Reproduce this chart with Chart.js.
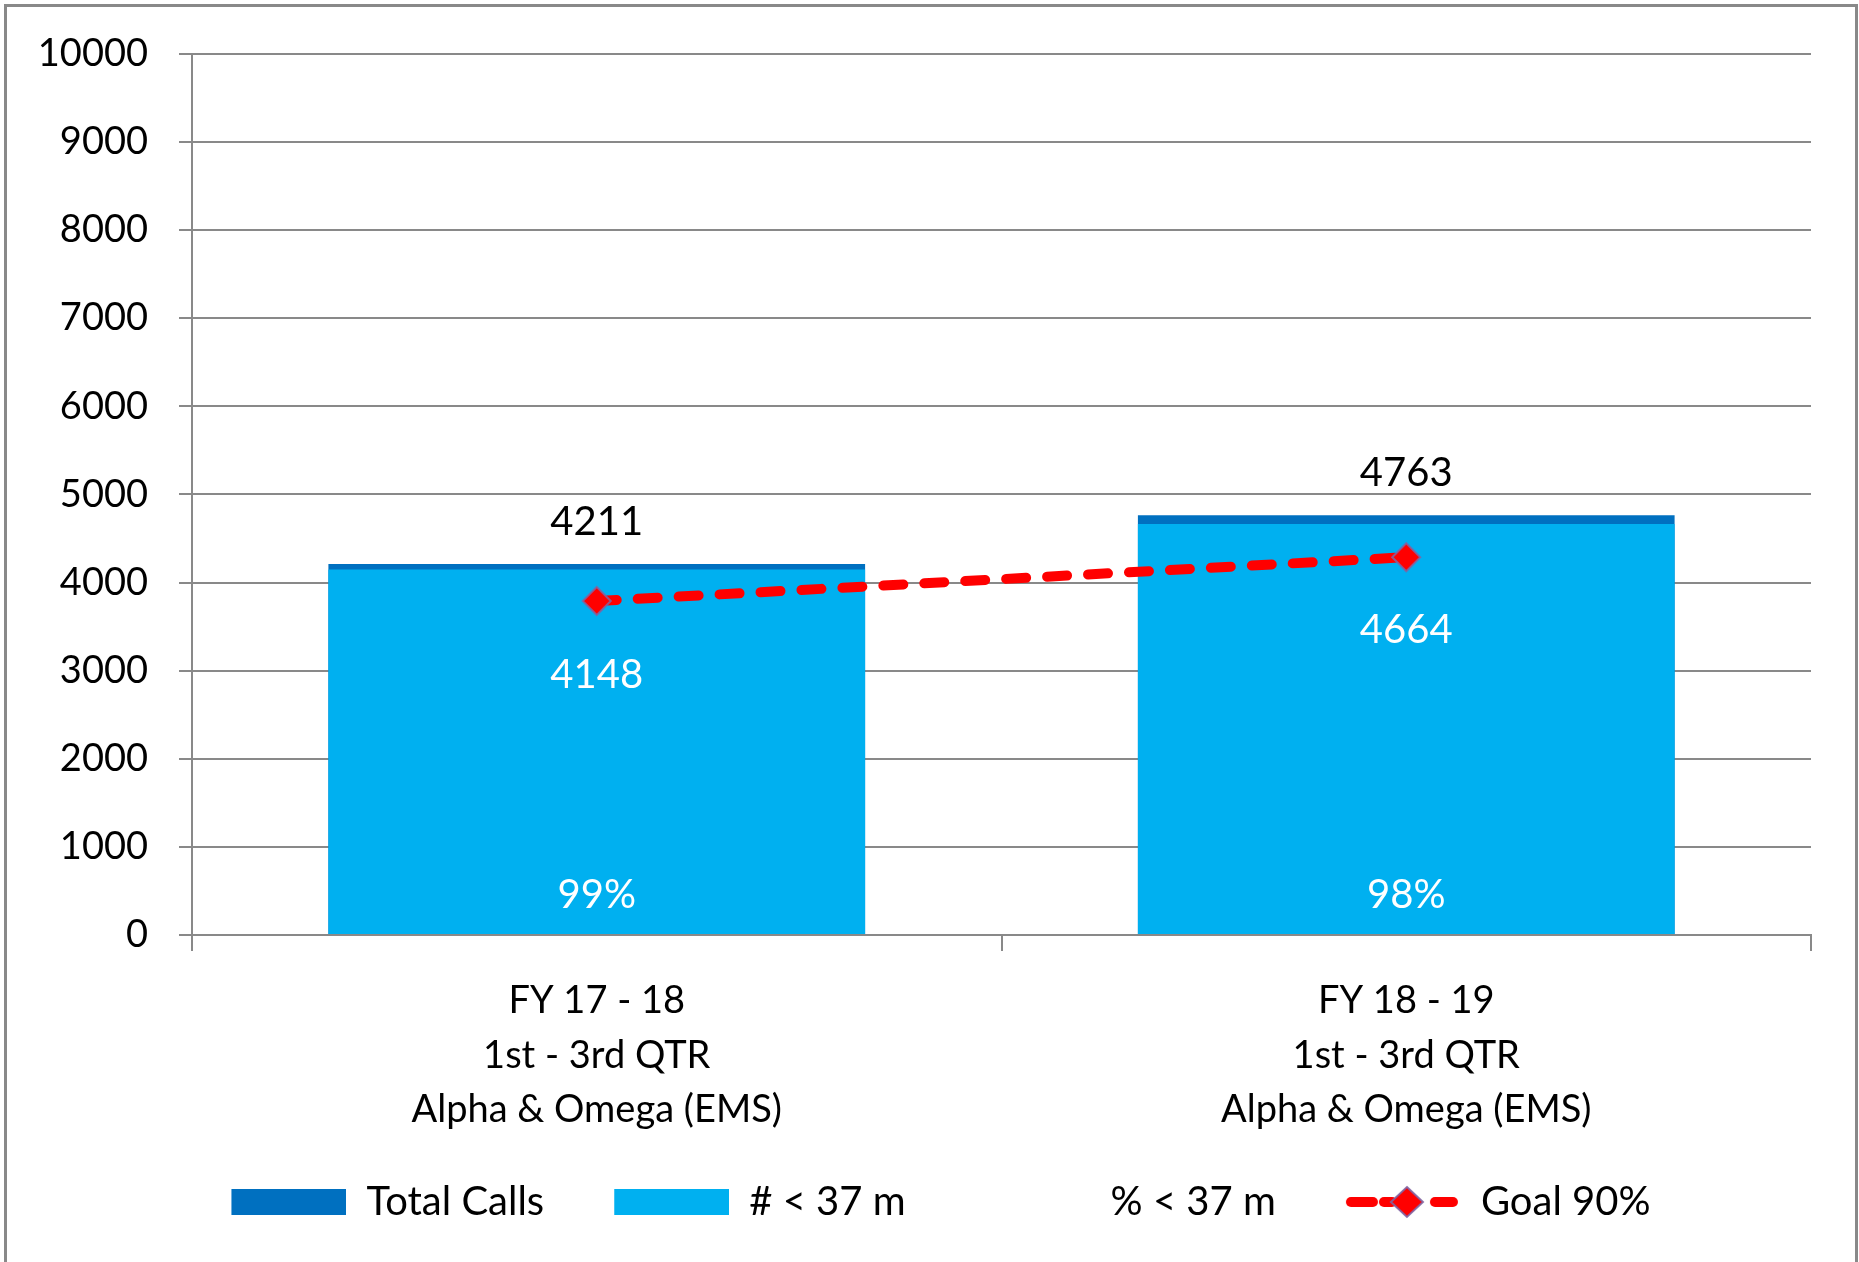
<!DOCTYPE html>
<html>
<head>
<meta charset="utf-8">
<script src="https://cdn.jsdelivr.net/npm/chart.js@4/dist/chart.umd.min.js"></script>
<style>
  html, body { margin: 0; padding: 0; background: #fff; }
  #wrap { width: 1859px; height: 1262px; position: relative; }
</style>
</head>
<body>
<div id="wrap"><canvas id="callsChart"></canvas></div>
<script>
// --- data ---
const categories = [
  ['FY 17 - 18', '1st - 3rd QTR', 'Alpha & Omega (EMS)'],
  ['FY 18 - 19', '1st - 3rd QTR', 'Alpha & Omega (EMS)']
];
const totalCalls = [4211, 4763];
const under37 = [4148, 4664];
const pctUnder37 = [99, 98];
const goal90 = [3790, 4287];
const seriesNames = ['Total Calls', '# < 37 m', '% < 37 m', 'Goal 90%'];
const yMin = 0, yMax = 10000, yStep = 1000;

const FONT = 'Lato, "Liberation Sans", sans-serif';
const GRID = '#898989';
const DARK = '#0070C0';
const LIGHT = '#00B0F0';
const RED = '#FF0000';

Chart.defaults.font.family = FONT;
Chart.defaults.font.size = 38;
Chart.defaults.color = '#000';

// legend icons: 25px blank lead-in, then a 115px sample
function swatch(color) {
  const c = document.createElement('canvas');
  c.width = 140; c.height = 26;
  const g = c.getContext('2d');
  if (color) { g.fillStyle = color; g.fillRect(25, 0, 115, 26); }
  return c;
}
function goalIcon() {
  const c = document.createElement('canvas');
  c.width = 140; c.height = 34;
  const g = c.getContext('2d');
  g.translate(25, 0);
  g.strokeStyle = RED; g.lineWidth = 10; g.lineCap = 'round';
  [[5, 27], [38, 46], [89, 107]].forEach(([a, b]) => {
    g.beginPath(); g.moveTo(a, 17); g.lineTo(b, 17); g.stroke();
  });
  g.beginPath();
  g.moveTo(61, 2); g.lineTo(77, 17); g.lineTo(61, 32); g.lineTo(45, 17); g.closePath();
  g.fillStyle = RED; g.fill();
  g.lineWidth = 2; g.strokeStyle = 'rgba(128,100,162,0.9)'; g.stroke();
  return c;
}
const legendIcons = [swatch(DARK), swatch(LIGHT), swatch(null), goalIcon()];

// value labels
const valueLabels = {
  id: 'valueLabels',
  afterDatasetsDraw(chart) {
    const ctx = chart.ctx;
    const xs = chart.scales.x;
    ctx.save();
    ctx.textAlign = 'center';
    ctx.textBaseline = 'middle';
    ctx.font = '40px ' + FONT;
    chart.getDatasetMeta(0).data.forEach((bar, i) => {
      ctx.fillStyle = '#000';
      ctx.fillText(totalCalls[i], bar.x, bar.y - 42);
    });
    chart.getDatasetMeta(1).data.forEach((bar, i) => {
      ctx.fillStyle = '#fff';
      ctx.fillText(under37[i], bar.x, bar.y + 106);
    });
    chart.getDatasetMeta(2).data.forEach((bar, i) => {
      ctx.fillStyle = '#fff';
      ctx.fillText(pctUnder37[i] + '%', xs.getPixelForValue(i), bar.base - 40);
    });
    ctx.restore();
  }
};

// outer frame
const frame = {
  id: 'frame',
  afterDraw(chart) {
    const ctx = chart.ctx;
    ctx.save();
    ctx.strokeStyle = GRID;
    ctx.lineWidth = 3;
    ctx.strokeRect(5.5, 5.5, chart.width - 8, chart.height + 20);
    ctx.restore();
  }
};

// centre the legend under the whole figure rather than the padded box
const legendNudge = {
  id: 'legendNudge',
  afterLayout(chart) {
    if (chart.legend) { chart.legend.left += 23; chart.legend.right += 23; }
  }
};

const ctx = document.getElementById('callsChart').getContext('2d');
new Chart(ctx, {
  type: 'bar',
  data: {
    labels: categories,
    datasets: [
      {
        label: seriesNames[0],
        data: totalCalls,
        yAxisID: 'y',
        backgroundColor: DARK,
        grouped: false, order: 3,
        categoryPercentage: 1, barPercentage: 0.663
      },
      {
        label: seriesNames[1],
        data: under37,
        yAxisID: 'y',
        backgroundColor: LIGHT,
        grouped: false, order: 2,
        categoryPercentage: 1, barPercentage: 0.663
      },
      {
        label: seriesNames[2],
        data: pctUnder37,
        yAxisID: 'yp',
        backgroundColor: 'rgba(0,0,0,0)',
        grouped: false, order: 4,
        categoryPercentage: 1, barPercentage: 0.663
      },
      {
        type: 'line',
        label: seriesNames[3],
        data: goal90,
        yAxisID: 'y',
        borderColor: RED,
        borderWidth: 10,
        borderDash: [20, 21],
        borderCapStyle: 'round',
        pointStyle: 'rectRot',
        pointRadius: 14,
        pointBackgroundColor: RED,
        pointBorderColor: 'rgba(128,100,162,0.85)',
        pointBorderWidth: 2,
        tension: 0,
        order: 1
      }
    ]
  },
  options: {
    responsive: true,
    maintainAspectRatio: false,
    animation: false,
    layout: { padding: { left: 0, right: 48, top: 52, bottom: 30 } },
    scales: {
      x: {
        type: 'category',
        offset: true,
        grid: { offset: true, drawOnChartArea: false, color: GRID, lineWidth: 2, tickLength: 16 },
        border: { display: true, color: GRID, width: 2 },
        ticks: { padding: 23, font: { size: 38, lineHeight: 1.43 }, color: '#000', maxRotation: 0, autoSkip: false },
        afterFit: s => { s.height = 202; }
      },
      y: {
        min: yMin, max: yMax,
        stacked: false,
        ticks: { stepSize: yStep, padding: 31, font: { size: 38 }, color: '#000', callback: v => String(v) },
        grid: { color: GRID, lineWidth: 2, tickLength: 13 },
        border: { display: true, color: GRID, width: 2 },
        afterFit: s => { s.width = 192; }
      },
      yp: {
        display: false,
        min: 0, max: 100
      }
    },
    plugins: {
      tooltip: { enabled: false },
      legend: {
        position: 'bottom',
        labels: {
          usePointStyle: true,
          pointStyleWidth: 140,
          boxHeight: 26,
          padding: 45,
          font: { size: 40 },
          color: '#000',
          generateLabels: chart => chart.data.datasets.map((ds, i) => ({
            text: ds.label,
            pointStyle: legendIcons[i],
            datasetIndex: i,
            hidden: false,
            lineWidth: 0,
            fillStyle: 'rgba(0,0,0,0)',
            strokeStyle: 'rgba(0,0,0,0)'
          }))
        }
      }
    }
  },
  plugins: [valueLabels, frame, legendNudge]
});
</script>
</body>
</html>
